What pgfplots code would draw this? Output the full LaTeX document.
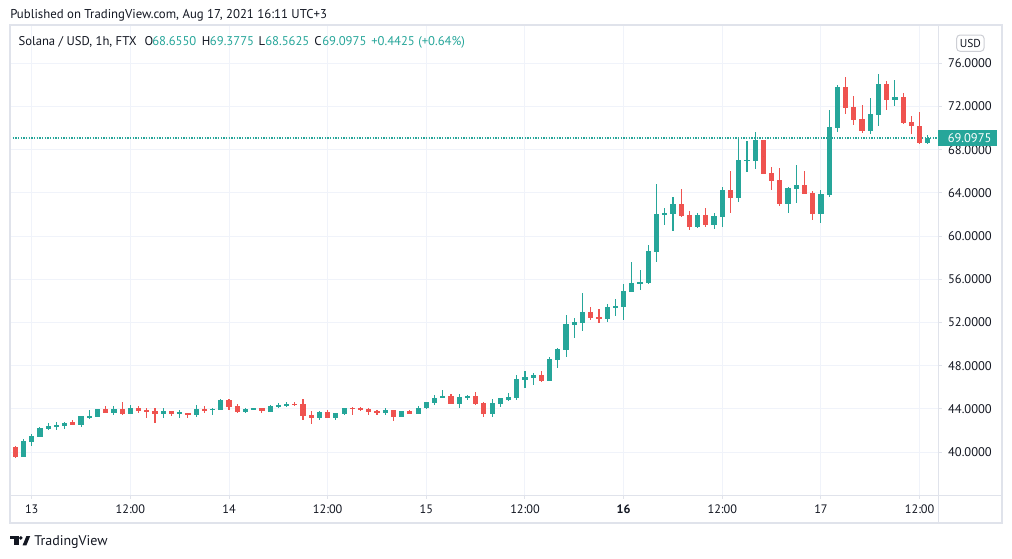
\documentclass[border=0pt]{standalone}
\usepackage{pgfplots}
\pgfplotsset{compat=1.18}
\usepackage{pgfplotstable}
\usepackage{fontspec}
\setmainfont{PT Sans}
\definecolor{upc}{RGB}{38,166,154}
\definecolor{dnc}{RGB}{239,83,80}
\definecolor{txt}{RGB}{19,23,34}
\definecolor{gridc}{RGB}{240,243,250}
\definecolor{brd}{RGB}{224,227,235}

\pgfplotstableread{
h o hi lo c
-1 39.56 41.2 39.56 41.02
0 40.95 41.67 40.58 41.48
1 41.42 42.3 41.42 42.22
2 42.13 42.69 42.04 42.44
3 42.31 42.78 42.04 42.53
4 42.44 42.8 42.1 42.69
6 42.53 43.33 42.34 43.33
7 43.18 43.89 43.08 43.33
8 43.27 43.98 43.27 43.98
10 43.61 44.26 43.45 43.98
12 43.55 44.35 43.55 44.07
16 43.55 44.04 43.18 43.8
18 43.58 43.85 43.18 43.67
20 43.45 44.35 43.27 43.98
22 43.92 44.04 43.45 43.98
23 43.89 44.94 43.89 44.81
26 43.73 44.07 43.64 43.98
27 43.98 44.07 43.9 44.07
29 43.73 44.35 43.73 44.26
30 44.2 44.57 44.1 44.38
31 44.29 44.63 44.2 44.47
35 43.18 43.8 42.99 43.7
37 43.18 43.61 42.99 43.61
38 43.52 44.07 43.45 44.07
43 43.64 44.07 43.45 43.89
45 43.27 43.8 43.27 43.8
47 43.55 44.26 43.55 44.07
48 44.1 44.63 44.01 44.63
49 44.57 45.28 44.38 45.0
50 45.0 45.74 45.0 45.18
52 44.47 45.37 44.1 45.09
53 45.03 45.28 44.84 45.18
56 43.55 44.91 43.27 44.54
57 44.47 45.0 44.2 45.0
58 44.84 45.46 44.75 45.09
59 45.0 47.13 44.81 46.76
60 46.67 47.5 45.93 46.94
61 46.85 47.31 46.2 47.13
63 46.6 48.8 46.6 48.61
64 48.55 49.63 47.81 49.54
65 49.47 52.69 48.82 51.85
66 51.79 52.41 50.58 52.04
67 51.97 54.72 51.23 52.96
70 52.34 53.7 52.06 53.43
71 53.36 54.17 52.62 53.52
72 53.45 55.56 52.25 54.91
73 54.84 57.59 54.84 55.65
74 55.58 56.85 55.0 55.74
75 55.65 59.17 55.58 58.61
76 58.55 64.81 57.62 62.04
77 61.97 62.59 61.02 62.13
78 62.04 63.61 60.46 62.96
81 60.86 62.1 60.77 61.91
83 61.02 62.13 60.65 61.82
84 61.79 64.54 60.86 64.26
86 63.55 68.98 63.18 67.04
87 66.97 68.8 65.93 67.07
88 66.97 69.63 66.23 68.89
92 63.0 64.54 62.13 64.44
93 64.38 66.57 63.08 64.72
96 62.04 64.26 61.23 63.89
97 63.83 71.67 63.64 70.09
98 70.0 73.98 69.66 73.8
102 69.72 72.78 69.47 71.3
103 71.2 75.0 70.16 74.07
105 72.59 74.44 72.04 72.87
109 68.655 69.3775 68.5625 69.0975
}\upt

\pgfplotstableread{
h o hi lo c
-2 40.44 40.56 39.47 39.56
5 42.78 43.0 42.53 42.53
9 43.98 44.26 43.61 43.61
11 43.98 44.63 43.45 43.48
13 44.1 44.26 43.64 43.82
14 43.89 44.04 43.18 43.7
15 43.8 44.07 42.69 43.52
17 43.8 43.8 43.36 43.55
19 43.61 43.61 43.18 43.45
21 43.95 44.26 43.6 43.85
24 44.81 44.91 43.92 44.2
25 44.26 44.42 43.64 43.7
28 44.07 44.07 43.64 43.77
32 44.47 44.66 44.29 44.38
33 44.47 44.91 42.96 43.36
34 43.43 43.8 42.62 43.18
36 43.7 43.89 43.18 43.18
39 44.07 44.13 43.45 44.01
40 44.07 44.17 43.8 43.92
41 43.98 44.07 43.45 43.73
42 43.8 43.89 43.45 43.64
44 43.89 43.89 42.9 43.27
46 43.8 43.89 43.55 43.55
51 45.18 45.37 44.47 44.47
54 45.18 45.56 44.38 44.47
55 44.54 44.63 43.27 43.55
62 47.13 47.5 46.51 46.6
68 52.96 53.43 52.25 52.44
69 52.5 53.24 51.97 52.34
79 62.96 64.35 61.76 61.82
80 61.91 62.31 60.56 60.86
82 61.91 62.59 60.83 61.05
85 64.26 66.02 62.16 63.55
89 68.89 68.89 65.77 65.77
90 65.83 66.39 64.26 65.12
91 65.19 66.3 62.8 62.99
94 64.72 66.02 63.92 63.92
95 63.98 64.14 61.51 62.04
99 73.8 74.72 71.33 71.85
100 71.94 72.96 70.28 70.74
101 70.8 72.13 69.51 69.72
104 74.07 74.35 71.67 72.59
106 72.87 73.24 70.37 70.46
107 70.56 71.11 69.44 70.19
108 70.19 71.48 68.52 68.61
}\dnt

\newcommand{\fs}[1]{\fontsize{#1}{1.2\dimexpr#1\relax}\selectfont}
\pgfplotsset{candle/.style={only marks, mark=*, mark size=0pt, mark options={draw=none, fill=none},
  error bars/.cd, y dir=both, y explicit, error mark=none}}

\begin{document}
\begin{tikzpicture}
\useasboundingbox (0,0) rectangle (759pt,-418.5pt);
\fill[white] (0,0) rectangle (759pt,-418.5pt);
\begin{scope}[x=0.75pt,y=-0.75pt]
\node[anchor=base west, inner sep=0pt, text=txt, font=\fs{9.6pt}] at (10,18.3) {Published on TradingView.com, Aug 17, 2021 16:11 UTC+3};
\end{scope}

\begin{axis}[
  at={(7.5pt,-371.5pt)}, anchor=south west,
  scale only axis, width=696.2pt, height=352pt,
  xmin=-2.64, xmax=110.27, ymin=35.99, ymax=79.455,
  axis line style={draw=none},
  xtick={0,12,24,36,48,60,72,84,96,108},
  xticklabels={13,12:00,14,12:00,15,12:00,\textbf{16},12:00,17,12:00},
  ytick={40,44,48,52,56,60,64,68,72,76},
  yticklabels={40.0000,44.0000,48.0000,52.0000,56.0000,60.0000,64.0000,68.0000,72.0000,76.0000},
  xtick pos=bottom, ytick pos=right, yticklabel pos=right,
  tick align=outside, major tick length=2.6pt,
  tick style={color=brd, line width=0.75pt},
  grid=major, major grid style={color=gridc, line width=0.75pt},
  xticklabel style={font=\fs{9.2pt}, text=txt, anchor=north, inner sep=0pt, yshift=-4.2pt},
  yticklabel style={font=\fs{9.4pt}, text=txt, anchor=west, inner sep=0pt, xshift=4.6pt},
  clip=true,
]
\addplot[draw=upc, solid, dash pattern=on 1.05pt off 0.95pt, line width=1pt] coordinates {(-2.64,69.0975) (110.27,69.0975)};
\addplot[candle, error bar style={draw=upc, line width=0.8pt, solid}]
  table[x=h, y expr={(\thisrow{hi}+\thisrow{lo})/2}, y error expr={(\thisrow{hi}-\thisrow{lo})/2}] {\upt};
\addplot[candle, error bar style={draw=upc, line width=3.9pt, solid}]
  table[x=h, y expr={(\thisrow{o}+\thisrow{c})/2}, y error expr={max(abs(\thisrow{c}-\thisrow{o})/2,0.04)}] {\upt};
\addplot[candle, error bar style={draw=dnc, line width=0.8pt, solid}]
  table[x=h, y expr={(\thisrow{hi}+\thisrow{lo})/2}, y error expr={(\thisrow{hi}-\thisrow{lo})/2}] {\dnt};
\addplot[candle, error bar style={draw=dnc, line width=3.9pt, solid}]
  table[x=h, y expr={(\thisrow{o}+\thisrow{c})/2}, y error expr={max(abs(\thisrow{c}-\thisrow{o})/2,0.04)}] {\dnt};
\end{axis}

\begin{scope}[x=0.75pt,y=-0.75pt]
% separators and frame
\draw[brd, line width=0.75pt] (938.3,25) -- (938.3,522.5);
\draw[brd, line width=0.75pt] (10,495.3) -- (1001.7,495.3);
\draw[brd, line width=1.5pt] (10,25) rectangle (1001.7,522.5);
% legend
\begin{scope}[every node/.style={anchor=base west, inner sep=0pt, font=\fs{9.5pt}}]
\node[text=txt] at (18.3,45.6) {Solana / USD, 1h, FTX};
\node[text=txt] at (144.3,45.6) {O};
\node[text=upc] at (152,45.6) {68.6550};
\node[text=txt] at (201.7,45.6) {H};
\node[text=upc] at (209.7,45.6) {69.3775};
\node[text=txt] at (258.3,45.6) {L};
\node[text=upc] at (265,45.6) {68.5625};
\node[text=txt] at (314,45.6) {C};
\node[text=upc] at (322,45.6) {69.0975};
\node[text=upc] at (371,45.6) {+0.4425 (+0.64\%)};
\end{scope}
% USD box
\draw[brd!80!gray, line width=0.75pt, rounded corners=2.5pt, fill=white] (956.7,35) rectangle (984,51.3);
\node[text=txt, font=\fs{8.6pt}, inner sep=0pt] at (970.3,43.2) {USD};
% last price tag
\fill[upc] (938.3,130.3) rectangle (996.7,145.7);
\node[text=white, font=\fs{9.4pt}, inner sep=0pt, anchor=west] at (947.5,138.2) {69.0975};
% footer
\fill[txt] (10,536) rectangle (18.7,539.2);
\fill[txt] (14.2,536) rectangle (18.7,545.3);
\fill[txt] (20.8,537.9) circle (1.9);
\fill[txt] (22.6,545.3) -- (26.4,545.3) -- (30.2,536) -- (26.4,536) -- cycle;
\node[anchor=base west, inner sep=0pt, text=txt, font=\fs{10.5pt}] at (34,545.5) {TradingView};
\end{scope}
\end{tikzpicture}
\end{document}
